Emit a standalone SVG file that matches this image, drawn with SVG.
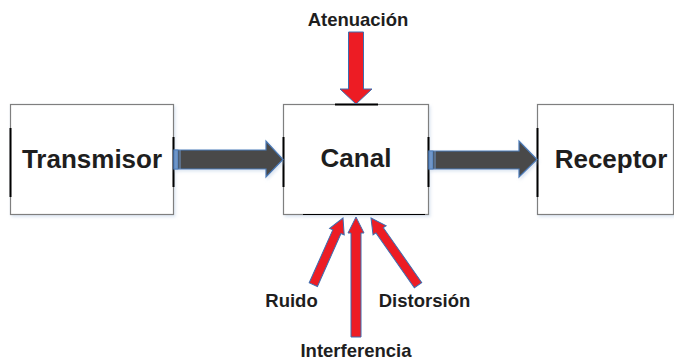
<svg xmlns="http://www.w3.org/2000/svg" width="674" height="360" viewBox="0 0 674 360">
<defs>
<style>
.box{fill:#ffffff;stroke:#7f7f7f;stroke-width:1.2}
.edge{stroke:#000000;stroke-width:2}
.big{font-family:"Liberation Sans",Arial,sans-serif;font-weight:bold;font-size:26px;fill:#1e1e1e;text-anchor:middle}
.lbl{font-family:"Liberation Sans",Arial,sans-serif;font-weight:bold;font-size:18.5px;fill:#1e1e1e;text-anchor:middle}
.flow{fill:#4a4a4a;stroke:#4a7ab8;stroke-width:1.2}
.stripe{fill:#6f96c8;stroke:#4a7ab8;stroke-width:0.8}
.red{fill:#ed1c24;stroke:#3d6db0;stroke-width:1}
</style>
<filter id="sh" x="-10%" y="-10%" width="130%" height="130%">
<feDropShadow dx="1.5" dy="2" stdDeviation="1.5" flood-color="#9fb8d8" flood-opacity="0.35"/>
</filter>
</defs>

<g id="transmisor">
<rect class="box" x="10.5" y="104.5" width="163" height="110" filter="url(#sh)"/>
<line class="edge" x1="10.5" y1="128" x2="10.5" y2="197"/>
<line class="edge" x1="173.5" y1="137" x2="173.5" y2="187"/>
<text class="big" x="92" y="168">Transmisor</text>
</g>

<g id="canal">
<rect class="box" x="283.5" y="104.5" width="145" height="110" filter="url(#sh)"/>
<line class="edge" x1="335" y1="104.5" x2="378" y2="104.5"/>
<line class="edge" x1="283.5" y1="137" x2="283.5" y2="187"/>
<line class="edge" x1="428.5" y1="137" x2="428.5" y2="187"/>
<line x1="303" y1="214.5" x2="425" y2="214.5" stroke="#000" stroke-width="1.2"/>
<text class="big" x="356" y="167">Canal</text>
</g>

<g id="receptor">
<rect class="box" x="537.5" y="104.5" width="136" height="110" filter="url(#sh)"/>
<line class="edge" x1="537.5" y1="128" x2="537.5" y2="197"/>
<text class="big" x="611" y="168">Receptor</text>
</g>

<g id="atenuacion">
<text class="lbl" x="358" y="26">Atenuación</text>
</g>
<g id="ruido">
<text class="lbl" x="291.5" y="307">Ruido</text>
</g>
<g id="distorsion">
<text class="lbl" x="424.5" y="307">Distorsión</text>
</g>
<g id="interferencia">
<text class="lbl" x="356" y="357">Interferencia</text>
</g>

<g id="connectors">
<g filter="url(#sh)">
<polygon class="flow" points="174,150 266,150 266,141 283,159.5 266,177 266,169 174,169"/>
<rect class="stripe" x="174" y="150" width="4" height="19"/>
<line x1="180" y1="150" x2="180" y2="169" stroke="#6f96c8" stroke-width="1"/>
<polygon class="flow" points="429,151 519,151 519,141 537,159.5 519,177 519,169 429,169"/>
<rect class="stripe" x="429" y="151" width="4" height="18"/>
<line x1="435" y1="151" x2="435" y2="169" stroke="#6f96c8" stroke-width="1"/>
</g>
<polygon class="red" transform="translate(356,104)" points="0,0 16,-15 7.5,-15 7.5,-72 -7.5,-72 -7.5,-15 -16,-15"/>
<polygon class="red" transform="translate(356,217)" points="0,0 8,16 5,16 5,120 -5,120 -5,16 -8,16"/>
<polygon class="red" transform="translate(343,218) rotate(24)" points="0,0 8,15 4.5,15 4.5,73 -4.5,73 -4.5,15 -8,15"/>
<polygon class="red" transform="translate(371,218) rotate(-35)" points="0,0 8,15 4.5,15 4.5,82 -4.5,82 -4.5,15 -8,15"/>
</g>
</svg>
